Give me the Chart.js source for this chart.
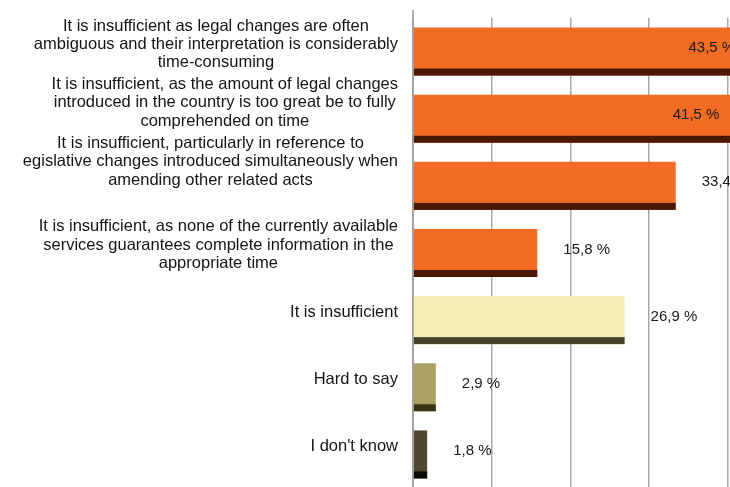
<!DOCTYPE html>
<html>
<head>
<meta charset="utf-8">
<script src="https://cdn.jsdelivr.net/npm/chart.js@4"></script>
<style>
  html, body { margin: 0; padding: 0; background: #fff; overflow: hidden; }
  #wrap { position: relative; width: 730px; height: 490px; }
</style>
</head>
<body>
<div id="wrap"><canvas id="myChart"></canvas></div>
<script>
var categories = [
  ["It is insufficient as legal changes are often", "ambiguous and their interpretation is considerably", "time-consuming"],
  ["It is insufficient, as the amount of legal changes", "introduced in the country is too great be to fully", "comprehended on time"],
  ["It is insufficient, particularly in reference to", "egislative changes introduced simultaneously when", "amending other related acts"],
  ["It is insufficient, as none of the currently available", "services guarantees complete information in the", "appropriate time"],
  ["It is insufficient"],
  ["Hard to say"],
  ["I don't know"]
];
var values = [43.5, 41.5, 33.4, 15.8, 26.9, 2.9, 1.8];
var xTicks = [0, 10, 20, 30, 40];

var barColors = ['#f26c23', '#f26c23', '#f26c23', '#f26c23', '#f1edb4', '#aaa062', '#4d482f'];
var edgeColors = ['#4a1805', '#4a1805', '#4a1805', '#4a1805', '#45412b', '#3a3517', '#0a0a05'];

// how far each label block sits above its bar centre
var labelLift = [7, 16, 24, 8, 8, 8, 8];

var barExtras = {
  id: 'barExtras',
  afterDatasetsDraw: function(chart) {
    var ctx = chart.ctx;
    var area = chart.chartArea;
    var meta = chart.getDatasetMeta(0);
    ctx.save();
    ctx.beginPath();
    ctx.rect(area.left, 0, area.right - area.left, chart.height);
    ctx.clip();
    // dark bottom edge of each bar
    meta.data.forEach(function(bar, i) {
      var bottom = bar.y + bar.height / 2;
      ctx.fillStyle = edgeColors[i];
      ctx.fillRect(bar.base, bottom - 7, bar.x - bar.base, 7);
    });

    // value labels
    ctx.font = '15px "Liberation Sans", Arial, sans-serif';
    ctx.fillStyle = '#1a1a1a';
    ctx.textBaseline = 'middle';
    meta.data.forEach(function(bar, i) {
      var txt = values[i].toFixed(1).replace('.', ',') + ' %';
      var cy = bar.y - 3.5;
      if (bar.x > area.right - 30) {
        ctx.textAlign = 'right';
        ctx.fillText(txt, bar.x - 20, cy);
      } else {
        ctx.textAlign = 'left';
        ctx.fillText(txt, bar.x + 26, cy);
      }
    });
    ctx.restore();
  },
  afterDraw: function(chart) {
    var ctx = chart.ctx;
    var area = chart.chartArea;
    var yScale = chart.scales.y;
    // vertical axis line
    ctx.save();
    ctx.strokeStyle = '#9a9a9a';
    ctx.lineWidth = 1.5;
    ctx.beginPath();
    ctx.moveTo(area.left, 10);
    ctx.lineTo(area.left, chart.height);
    ctx.stroke();
    ctx.restore();

    // category labels: lines centred in a block, block right-aligned
    ctx.save();
    ctx.font = '16.5px "Liberation Sans", Arial, sans-serif';
    ctx.fillStyle = '#141414';
    ctx.textBaseline = 'middle';
    ctx.textAlign = 'center';
    var lineH = 18.3;
    categories.forEach(function(lines, i) {
      var w = 0;
      lines.forEach(function(l) { w = Math.max(w, ctx.measureText(l).width); });
      var cx = area.left - 15 - w / 2;
      var cy = yScale.getPixelForTick(i) - labelLift[i];
      var top = cy - (lines.length - 1) * lineH / 2;
      lines.forEach(function(l, k) {
        ctx.fillText(l, cx, top + k * lineH);
      });
    });
    ctx.restore();
  }
};

var ctx = document.getElementById('myChart').getContext('2d');
var chart = new Chart(ctx, {
  type: 'bar',
  data: {
    labels: categories,
    datasets: [{
      data: values,
      backgroundColor: barColors,
      borderWidth: 0,
      categoryPercentage: 1,
      barPercentage: 0.715
    }]
  },
  options: {
    indexAxis: 'y',
    responsive: true,
    maintainAspectRatio: false,
    animation: false,
    layout: { padding: { left: 413, top: 18, bottom: 2, right: 0 } },
    plugins: { legend: { display: false }, tooltip: { enabled: false } },
    scales: {
      x: {
        min: 0,
        max: 40.3,
        afterBuildTicks: function(scale) {
          scale.ticks = xTicks.map(function(v) { return { value: v }; });
        },
        ticks: { display: false },
        grid: { color: '#a8a8a8', lineWidth: 1.5, drawTicks: false },
        border: { display: false }
      },
      y: {
        display: false,
        grid: { display: false }
      }
    }
  },
  plugins: [barExtras]
});
</script>
</body>
</html>
